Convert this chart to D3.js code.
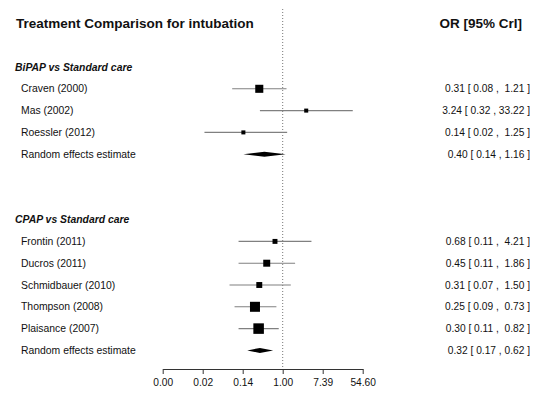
<!DOCTYPE html>
<html>
<head>
<meta charset="utf-8">
<script src="https://cdn.jsdelivr.net/npm/d3@7"></script>
<style>
  html, body { margin: 0; padding: 0; background: #fff; }
  svg { display: block; font-family: "Liberation Sans", Arial, Helvetica, sans-serif; }
</style>
</head>
<body>
<svg id="chart" width="535" height="395"></svg>
<script>
// ---------------- data ----------------
const chartTitle = "Treatment Comparison for intubation";
const valueHeader = "OR [95% CrI]";
const groups = ["BiPAP vs Standard care", "CPAP vs Standard care"];
const studyLabels = ["Craven (2000)", "Mas (2002)", "Roessler (2012)",
  "Frontin (2011)", "Ducros (2011)", "Schmidbauer (2010)", "Thompson (2008)", "Plaisance (2007)"];
const studyGroup = [0, 0, 0, 1, 1, 1, 1, 1];
const studyOR = [0.31, 3.24, 0.14, 0.68, 0.45, 0.31, 0.25, 0.30];
const studyLo = [0.08, 0.32, 0.02, 0.11, 0.11, 0.07, 0.09, 0.11];
const studyHi = [1.21, 33.22, 1.25, 4.21, 1.86, 1.50, 0.73, 0.82];
const studyWeight = [2.4, 0.6, 0.6, 0.9, 1.8, 1.3, 3.7, 4.1];
const reLabel = "Random effects estimate";
const reOR = [0.40, 0.32];
const reLo = [0.14, 0.17];
const reHi = [1.16, 0.62];
const tickExponents = [-6, -4, -2, 0, 2, 4];
const tickLabels = ["0.00", "0.02", "0.14", "1.00", "7.39", "54.60"];

// ---------------- layout ----------------
const svg = d3.select("#chart");
const tickValues = tickExponents.map(Math.exp);
const x = d3.scaleLog().domain([tickValues[0], tickValues[tickValues.length - 1]]).range([162.7, 362.7]);
const y = d3.scaleLinear().domain([0, 13]).range([67, 350.4]);
const sizeScale = d3.scaleSqrt().domain([0, 1]).range([0, 5.2]);

// build rows
const rows = [];
let k = 0;
groups.forEach((g, gi) => {
  rows.push({type: "header", label: g, row: k++});
  studyLabels.forEach((s, i) => {
    if (studyGroup[i] !== gi) return;
    rows.push({type: "study", label: s, or: studyOR[i], lo: studyLo[i], hi: studyHi[i], w: studyWeight[i], row: k++});
  });
  rows.push({type: "re", label: reLabel, or: reOR[gi], lo: reLo[gi], hi: reHi[gi], row: k++});
  k += 2;
});

const f2 = d3.format(".2f");
const hiWidth = d3.max(studyHi.map(v => f2(v).length));
function fmt(d) {
  let hi = f2(d.hi);
  if (d.type === "study") hi = hi.padStart(hiWidth, " ");
  return f2(d.or) + " [ " + f2(d.lo) + " , " + hi + " ]";
}

// title & header
svg.append("text").attr("x", 16).attr("y", y(-2)).attr("dy", "0.35em")
  .attr("font-size", 13.5).attr("font-weight", "bold").attr("fill", "#111").text(chartTitle);
svg.append("text").attr("x", 522).attr("y", y(-2)).attr("dy", "0.35em").attr("text-anchor", "end")
  .attr("font-size", 13.5).attr("font-weight", "bold").attr("fill", "#111").text(valueHeader);

// reference line at OR = 1
svg.append("line").attr("x1", x(1)).attr("x2", x(1)).attr("y1", 9).attr("y2", 369)
  .attr("stroke", "#777").attr("stroke-width", 1).attr("stroke-dasharray", "1,2");

// labels
svg.selectAll("text.lab").data(rows).join("text").attr("class", "lab")
  .attr("x", d => d.type === "header" ? 15 : 21)
  .attr("y", d => y(d.row)).attr("dy", "0.35em")
  .attr("font-size", 10.4)
  .attr("font-weight", d => d.type === "header" ? "bold" : "normal")
  .attr("font-style", d => d.type === "header" ? "italic" : "normal")
  .attr("fill", "#111")
  .text(d => d.label);

// values
svg.selectAll("text.val").data(rows.filter(d => d.type !== "header")).join("text").attr("class", "val")
  .attr("x", 530).attr("y", d => y(d.row)).attr("dy", "0.35em").attr("text-anchor", "end")
  .attr("font-size", 10.2).attr("fill", "#111").style("white-space", "pre")
  .text(fmt);

// CI lines
const studies = rows.filter(d => d.type === "study");
svg.selectAll("line.ci").data(studies).join("line").attr("class", "ci")
  .attr("x1", d => x(d.lo)).attr("x2", d => x(d.hi))
  .attr("y1", d => y(d.row)).attr("y2", d => y(d.row))
  .attr("stroke", "#808080").attr("stroke-width", 1.1);

// squares
svg.selectAll("rect.pt").data(studies).join("rect").attr("class", "pt")
  .attr("x", d => x(d.or) - sizeScale(d.w) / 2)
  .attr("y", d => y(d.row) - sizeScale(d.w) / 2)
  .attr("width", d => sizeScale(d.w)).attr("height", d => sizeScale(d.w))
  .attr("fill", "#000");

// diamonds
svg.selectAll("path.re").data(rows.filter(d => d.type === "re")).join("path").attr("class", "re")
  .attr("d", d => {
    const cy = y(d.row), h = 2.5;
    return `M${x(d.lo)},${cy} L${x(d.or)},${cy - h} L${x(d.hi)},${cy} L${x(d.or)},${cy + h} Z`;
  })
  .attr("fill", "#000");

// axis
const axis = d3.axisBottom(x).tickValues(tickValues).tickFormat((d, i) => tickLabels[i]).tickSize(5).tickSizeOuter(0);
const gAxis = svg.append("g").attr("transform", "translate(0,369)").call(axis);
gAxis.select(".domain").attr("stroke", "#333");
gAxis.selectAll(".tick line").attr("stroke", "#333");
gAxis.selectAll(".tick text").attr("font-size", 10.2).attr("fill", "#111").attr("font-family", null).attr("y", 10);
gAxis.attr("font-family", null);
</script>
</body>
</html>
